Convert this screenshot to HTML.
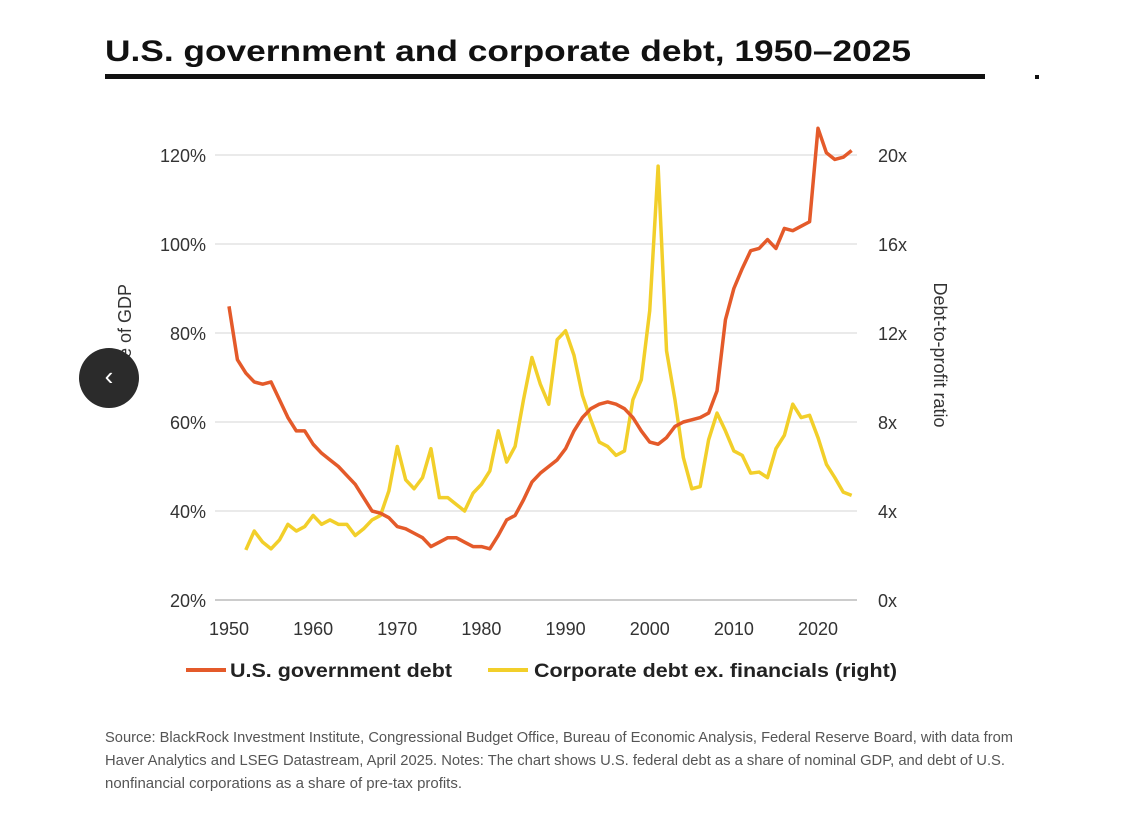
<!DOCTYPE html>
<html><head><meta charset="utf-8"><style>
body{margin:0;background:#fff;width:1124px;height:826px;overflow:hidden;font-family:"Liberation Sans",sans-serif;position:relative}
#rule{position:absolute;left:105px;top:74px;width:880px;height:5px;background:#111}
#dot{position:absolute;left:1035px;top:75px;width:4px;height:4px;background:#111}
#nav{position:absolute;left:79px;top:348px;width:60px;height:60px;border-radius:50%;background:#2b2b2b;color:#fff;font-size:26px;text-align:center;line-height:56px}
</style></head><body>
<div id="rule"></div>
<div id="dot"></div>
<svg id="chart" width="1124" height="826" style="position:absolute;left:0;top:0">
<text x="105" y="61" font-size="30" font-weight="bold" fill="#111" textLength="806" lengthAdjust="spacingAndGlyphs">U.S. government and corporate debt, 1950–2025</text>
<g font-size="15" fill="#555">
<text x="105" y="742" textLength="908" lengthAdjust="spacingAndGlyphs">Source: BlackRock Investment Institute, Congressional Budget Office, Bureau of Economic Analysis, Federal Reserve Board, with data from</text>
<text x="105" y="765" textLength="900" lengthAdjust="spacingAndGlyphs">Haver Analytics and LSEG Datastream, April 2025. Notes: The chart shows U.S. federal debt as a share of nominal GDP, and debt of U.S.</text>
<text x="105" y="788" textLength="357" lengthAdjust="spacingAndGlyphs">nonfinancial corporations as a share of pre-tax profits.</text>
</g>
</svg>
<div id="nav">‹</div>
<script>
const govYears=[1950,1951,1952,1953,1954,1955,1956,1957,1958,1959,1960,1961,1962,1963,1964,1965,1966,1967,1968,1969,1970,1971,1972,1973,1974,1975,1976,1977,1978,1979,1980,1981,1982,1983,1984,1985,1986,1987,1988,1989,1990,1991,1992,1993,1994,1995,1996,1997,1998,1999,2000,2001,2002,2003,2004,2005,2006,2007,2008,2009,2010,2011,2012,2013,2014,2015,2016,2017,2018,2019,2020,2021,2022,2023,2024];
const govDebt=[86,74,71,69,68.5,69,65,61,58,58,55,53,51.5,50,48,46,43,40,39.5,38.5,36.5,36,35,34,32,33,34,34,33,32,32,31.5,34.5,38,39,42.5,46.5,48.5,50,51.5,54,58,61,63,64,64.5,64,63,61,58,55.5,55,56.5,59,60,60.5,61,62,67,83,90,94.5,98.5,99,101,99,103.5,103,104,105,126,120.5,119,119.5,121];
const corpYears=[1952,1953,1954,1955,1956,1957,1958,1959,1960,1961,1962,1963,1964,1965,1966,1967,1968,1969,1970,1971,1972,1973,1974,1975,1976,1977,1978,1979,1980,1981,1982,1983,1984,1985,1986,1987,1988,1989,1990,1991,1992,1993,1994,1995,1996,1997,1998,1999,2000,2001,2002,2003,2004,2005,2006,2007,2008,2009,2010,2011,2012,2013,2014,2015,2016,2017,2018,2019,2020,2021,2022,2023,2024];
const corpDebt=[2.25,3.1,2.6,2.3,2.7,3.4,3.1,3.3,3.8,3.4,3.6,3.4,3.4,2.9,3.2,3.6,3.8,4.9,6.9,5.4,5.0,5.5,6.8,4.6,4.6,4.3,4.0,4.8,5.2,5.8,7.6,6.2,6.9,9.0,10.9,9.7,8.8,11.7,12.1,11.0,9.2,8.1,7.1,6.9,6.5,6.7,9.0,9.9,13.0,19.5,11.2,9.0,6.4,5.0,5.1,7.2,8.4,7.6,6.7,6.5,5.7,5.75,5.5,6.8,7.4,8.8,8.2,8.3,7.3,6.1,5.5,4.85,4.7];
const leftTicks=[20,40,60,80,100,120];
const leftTickLabels=["20%","40%","60%","80%","100%","120%"];
const rightTicks=[0,4,8,12,16,20];
const xTicks=[1950,1960,1970,1980,1990,2000,2010,2020];

const X=y=>229+(y-1950)*(818-229)/70;
const YL=v=>600-(v-20)*4.45;
const YR=v=>600-v*22.25;
const svg=document.getElementById('chart');
const NS='http://www.w3.org/2000/svg';
function mk(t,a,txt){const e=document.createElementNS(NS,t);for(const k in a)e.setAttribute(k,a[k]);if(txt!==undefined)e.textContent=txt;svg.appendChild(e);return e;}
leftTicks.forEach((v,i)=>{
  const g=mk('line',{x1:215,x2:857,y1:YL(v),y2:YL(v),stroke:i==0?'#bbb':'#e3e3e3','stroke-width':1.5});
  
  
  const t=mk('text',{x:206,y:YL(v)+7,'text-anchor':'end','font-size':18,fill:'#333'},leftTickLabels[i]);
  
  
});
rightTicks.forEach(v=>{
  const t=mk('text',{x:878,y:YR(v)+7,'font-size':18,fill:'#333'},v+'x');
  
  
});
xTicks.forEach(v=>{
  const t=mk('text',{x:X(v),y:635,'text-anchor':'middle','font-size':18,fill:'#333'},String(v));
  
  
});
const lt=mk('text',{x:0,y:0,'text-anchor':'middle','font-size':18,fill:'#333',transform:'translate(131,340) rotate(-90)'},'Share of GDP');


const rt=mk('text',{x:0,y:0,'text-anchor':'middle','font-size':18,fill:'#333',transform:'translate(934,355) rotate(90)'},'Debt-to-profit ratio');


const cp=mk('polyline',{points:corpYears.map((y,i)=>X(y)+','+YR(corpDebt[i])).join(' '),fill:'none',stroke:'#f2cf2a','stroke-width':3.5,'stroke-linejoin':'round'});


const gp=mk('polyline',{points:govYears.map((y,i)=>X(y)+','+YL(govDebt[i])).join(' '),fill:'none',stroke:'#e45a2a','stroke-width':3.5,'stroke-linejoin':'round'});


const l1=mk('line',{x1:186,x2:226,y1:670,y2:670,stroke:'#e45a2a','stroke-width':4});


const t1=mk('text',{x:230,y:677,'font-size':19,'font-weight':'bold',fill:'#222',textLength:222,lengthAdjust:'spacingAndGlyphs'},'U.S. government debt');


const l2=mk('line',{x1:488,x2:528,y1:670,y2:670,stroke:'#f2cf2a','stroke-width':4});


const t2=mk('text',{x:534,y:677,'font-size':19,'font-weight':'bold',fill:'#222',textLength:363,lengthAdjust:'spacingAndGlyphs'},'Corporate debt ex. financials (right)');


</script>
</body></html>
